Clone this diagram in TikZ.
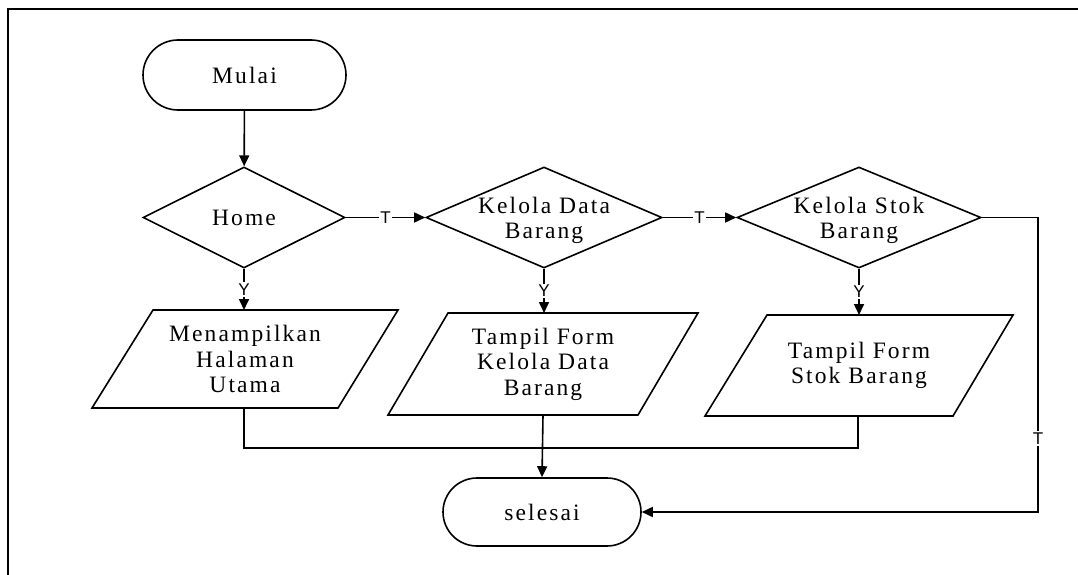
\documentclass[tikz,border=0pt]{standalone}
\usepackage{fontspec}
\setmainfont{Liberation Serif}[LetterSpace=9]
\newfontfamily\lblfont{Liberation Sans}
\usetikzlibrary{shapes.geometric,shapes.misc,arrows.meta,calc}
\begin{document}
\begin{tikzpicture}[x=1pt,y=-1pt,
  txt/.style={font=\fontsize{23.5}{25.5}\selectfont, align=center},
  lw/.style={line width=1.6pt},
  term/.style={lw, draw, rounded rectangle, inner sep=0pt},
  dec/.style={lw, draw, diamond, inner sep=0pt, minimum height=101pt},
  arr/.style={lw, -{Triangle[length=11pt,width=10pt]}},
  lbl/.style={font=\lblfont\fontsize{17}{17}\selectfont, fill=white, inner sep=1.5pt}
]
\useasboundingbox (0,0) rectangle (1078,575);
\draw[line width=2.2pt] (8,575) -- (8,9) -- (1078,9);

\node[term, txt, minimum width=203pt, minimum height=70pt] (mulai) at (244.5,75) {Mulai};
\node[term, txt, minimum width=198pt, minimum height=68pt] (selesai) at (542,512) {selesai};

\node[dec, minimum width=202pt] (home) at (244,217.5) {};
\node[txt] (homet) at (home) {Home};
\node[dec, minimum width=236pt] (kdb) at (544,217.5) {};
\node[txt] (kdbt) at ([yshift=-3pt]kdb) {Kelola Data\\Barang};
\node[dec, minimum width=244pt] (ksb) at (859,217.5) {};
\node[txt] (ksbt) at ([yshift=-3pt]ksb) {Kelola Stok\\Barang};

% parallelograms
\draw[lw] (153,310) -- (398,310) -- (338,408) -- (92,408) -- cycle;
\node[txt] (p1) at (245,359) {Menampilkan\\Halaman\\Utama};
\draw[lw] (448,313) -- (698,313) -- (638,415) -- (388,415) -- cycle;
\node[txt] (p2) at (543,364) {Tampil Form\\Kelola Data\\Barang};
\draw[lw] (767,315) -- (1013,315) -- (953,416) -- (705,416) -- cycle;
\node[txt] (p3) at (859,365.5) {Tampil Form\\Stok Barang};

\coordinate (p1n) at (244,310);
\coordinate (p1s) at (244,408);
\coordinate (p2n) at (544,313);
\coordinate (p2s) at (543,415);
\coordinate (p3n) at (859,315);
\coordinate (p3s) at (858,416);
\coordinate (join) at (543,448);
\coordinate (rc) at (1038,217.5);

\draw[arr] (mulai) -- (home);
\draw[arr] (home.east) -- node[lbl]{T} (kdb.west);
\draw[arr] (kdb.east) -- node[lbl]{T} (ksb.west);
\draw[arr] (home.south) -- node[lbl]{Y} (p1n);
\draw[arr] (kdb.south) -- node[lbl]{Y} (p2n);
\draw[arr] (ksb.south) -- node[lbl]{Y} (p3n);

\draw[lw] (p1s) |- (join);
\draw[lw] (p3s) |- (join);
\draw[arr] (p2s) -- (selesai.north);
\draw[arr] (ksb.east) -- (rc) -- node[lbl, pos=0.75]{T} (rc |- selesai.east) -- (selesai.east);
\end{tikzpicture}
\end{document}
